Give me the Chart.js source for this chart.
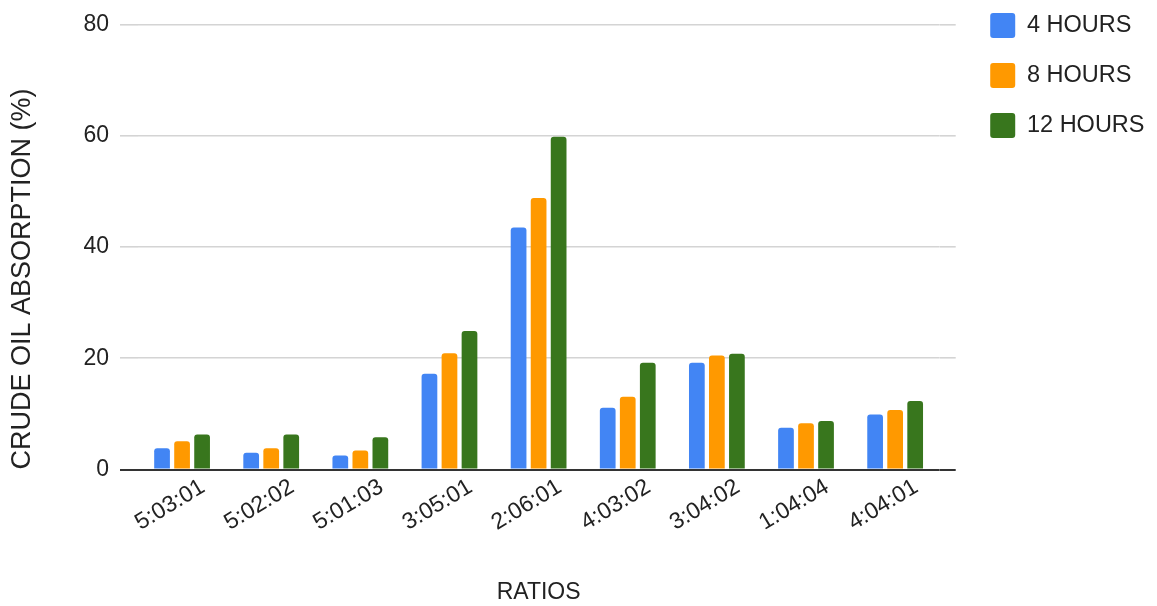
<!DOCTYPE html>
<html>
<head>
<meta charset="utf-8">
<title>Crude oil absorption by ratio</title>
<script src="https://cdn.jsdelivr.net/npm/chart.js@4.4.1/dist/chart.umd.min.js"></script>
<style>
  html, body { margin: 0; padding: 0; background: #ffffff; }
  #wrap { width: 1157px; height: 606px; }
</style>
</head>
<body>
<div id="wrap"><canvas id="c" width="1157" height="606"></canvas></div>
<script>
// Mix ratios on the category axis
const ratios = ['5:03:01', '5:02:02', '5:01:03', '3:05:01', '2:06:01', '4:03:02', '3:04:02', '1:04:04', '4:04:01'];
// Absorption (%) after each soaking time
const hours4  = [3.8, 3.0, 2.5, 17.2, 43.5, 11.1, 19.2, 7.5, 9.9];
const hours8  = [5.1, 3.8, 3.4, 20.9, 48.8, 13.1, 20.5, 8.3, 10.7];
const hours12 = [6.3, 6.3, 5.8, 24.9, 59.8, 19.2, 20.8, 8.7, 12.3];
const seriesNames = ['4 HOURS', '8 HOURS', '12 HOURS'];
const yMin = 0, yMax = 80, yStep = 20;

const FONT = "'Liberation Sans', Arial, sans-serif";
const TEXT = '#222222';
const colors = ['#4285F4', '#FF9900', '#38761D'];

const gridColor = c => (c.tick && c.tick.value === 0) ? '#333333' : '#d4d4d4';
const gridWidth = c => (c.tick && c.tick.value === 0) ? 2 : 1.6;

const series = [hours4, hours8, hours12];

new Chart(document.getElementById('c'), {
  type: 'bar',
  data: {
    labels: ratios,
    datasets: series.map((vals, i) => ({
      label: seriesNames[i],
      data: vals,
      backgroundColor: colors[i],
      borderWidth: 0,
      borderRadius: 3,
      categoryPercentage: 0.674,
      barPercentage: 0.785
    }))
  },
  options: {
    responsive: false,
    animation: false,
    devicePixelRatio: 1,
    layout: { padding: { top: -12, right: 2.5, bottom: 0, left: 0 } },
    plugins: {
      tooltip: { enabled: false },
      legend: {
        position: 'right',
        align: 'start',
        labels: {
          color: TEXT,
          font: { family: FONT, size: 23.5 },
          boxWidth: 25,
          boxHeight: 25,
          padding: 25,
          useBorderRadius: true,
          borderRadius: 3
        }
      }
    },
    scales: {
      x: {
        grid: { display: false, drawTicks: false },
        border: { display: false },
        ticks: {
          color: TEXT,
          font: { family: FONT, size: 23 },
          minRotation: 31,
          maxRotation: 31,
          labelOffset: 21,
          padding: 4
        },
        title: {
          display: true,
          text: 'RATIOS',
          color: TEXT,
          font: { family: FONT, size: 23 },
          padding: { top: 0, bottom: 0 }
        },
        afterFit: s => { s.height = 136.5; }
      },
      y: {
        position: 'left',
        min: yMin,
        max: yMax,
        ticks: {
          stepSize: yStep,
          color: TEXT,
          font: { family: FONT, size: 23 },
          padding: 11
        },
        grid: { color: gridColor, lineWidth: gridWidth, tickLength: 17.5, drawTicks: true },
        border: { display: false },
        title: {
          display: true,
          text: 'CRUDE OIL ABSORPTION (%)',
          color: TEXT,
          align: 'start',
          font: { family: FONT, size: 27 },
          padding: { top: 6, bottom: 0 }
        },
        afterFit: s => { s.width = 137.5; s.paddingTop = 24.5; }
      },
      y2: {
        position: 'right',
        min: yMin,
        max: yMax,
        ticks: { display: false, stepSize: yStep },
        grid: { color: gridColor, lineWidth: gridWidth, tickLength: 16, drawTicks: true, drawOnChartArea: false },
        border: { display: false },
        afterFit: s => { s.width = 25.5; }
      }
    }
  }
});
</script>
</body>
</html>
